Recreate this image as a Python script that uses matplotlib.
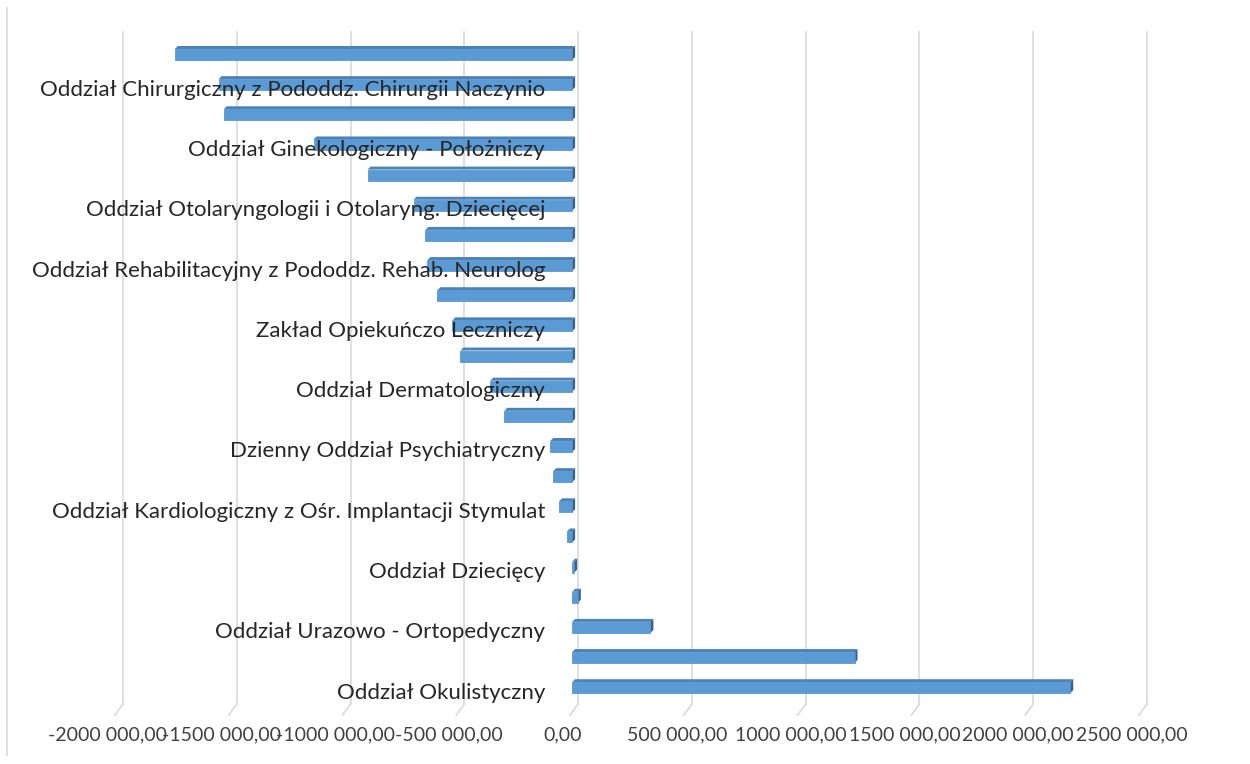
import matplotlib.pyplot as plt
from matplotlib.patches import Polygon
from matplotlib.transforms import ScaledTranslation
from matplotlib.lines import Line2D

# --- data ---
values = [-1746000, -1553000, -1531000, -1136000, -899000, -697000, -645000,
          -636000, -592000, -526000, -491000, -360000, -298000, -96000,
          -83000, -57000, -22000, 9000, 25000, 344000, 1241000, 2189000]

# only every second category is labelled in the original
label_pos = [1, 3, 5, 7, 9, 11, 13, 15, 17, 19, 21]
labels = [
    "Oddział Chirurgiczny z Pododdz. Chirurgii Naczynio",
    "Oddział Ginekologiczny - Położniczy",
    "Oddział Otolaryngologii i Otolaryng. Dziecięcej",
    "Oddział Rehabilitacyjny z Pododdz. Rehab. Neurolog",
    "Zakład Opiekuńczo Leczniczy",
    "Oddział Dermatologiczny",
    "Dzienny Oddział Psychiatryczny",
    "Oddział Kardiologiczny z Ośr. Implantacji Stymulat",
    "Oddział Dziecięcy",
    "Oddział Urazowo - Ortopedyczny",
    "Oddział Okulistyczny",
]

x_ticks = [-2000000, -1500000, -1000000, -500000, 0, 500000, 1000000,
           1500000, 2000000, 2500000]
x_tick_labels = ["-2000 000,00", "-1500 000,00", "-1000 000,00", "-500 000,00",
                 "0,00", "500 000,00", "1000 000,00", "1500 000,00",
                 "2000 000,00", "2500 000,00"]

# --- style ---
plt.rcParams['font.family'] = ['Lato', 'DejaVu Sans']
front_col = '#5b9bd5'
top_col = '#4a83b8'
side_col = '#35628f'
grid_col = '#d9d9d9'
text_col = '#404040'

W, H, DPI = 1250, 764, 100
fig = plt.figure(figsize=(W / DPI, H / DPI), dpi=DPI)
ax = fig.add_axes([123 / W, 1 - 704 / H, 1024 / W, 672 / H])

xmin, xmax = -2000000, 2500000
ymin, ymax = -0.746, 21.54
ax.set_xlim(xmin, xmax)
ax.set_ylim(ymax, ymin)

px_x = (xmax - xmin) / 1024.0      # data units per pixel along x
px_y = (ymax - ymin) / 672.0       # data units per pixel along y

# back wall gridlines + floor diagonals
for t in x_ticks:
    ax.add_line(Line2D([t, t], [ymin, ymax], color=grid_col, lw=1.2, clip_on=False, zorder=0))
    ax.add_line(Line2D([t, t - 8 * px_x], [ymax, ymax + 11 * px_y], color=grid_col,
                       lw=1.2, clip_on=False, zorder=0))

# bars with a faux 3D look (front face shifted forward from the back wall)
shift = ScaledTranslation(-6 / DPI, 0, fig.dpi_scale_trans)
front = ax.transData + shift
h = 0.365
dx = 3 * px_x
dy = 3 * px_y
for i, v in enumerate(values):
    lo, hi = min(0, v), max(0, v)
    top = i - h / 2
    bot = i + h / 2
    ax.add_patch(Polygon([[lo, top], [hi, top], [hi + dx, top - dy], [lo + dx, top - dy]],
                         closed=True, facecolor=top_col, edgecolor='none',
                         transform=front, zorder=2))
    ax.add_patch(Polygon([[hi, top], [hi + dx, top - dy], [hi + dx, bot - dy], [hi, bot]],
                         closed=True, facecolor=side_col, edgecolor='none',
                         transform=front, zorder=2))
    ax.barh(i, v, height=h, color=front_col, edgecolor='#4f8cc4', linewidth=0.5,
            transform=front, zorder=3)

# axes dressing
for s in ax.spines.values():
    s.set_visible(False)
ax.set_xticks(x_ticks)
ax.set_xticklabels(x_tick_labels, fontsize=14, color=text_col)
ax.set_yticks(label_pos)
ax.set_yticklabels(labels, fontsize=16, color='#262626')
ax.tick_params(axis='x', length=0, pad=16)
ax.tick_params(axis='y', length=0, pad=-(545 - 123) * 72 / DPI)
ax.yaxis.set_zorder(10)

for lab in ax.get_xticklabels():
    lab.set_transform(lab.get_transform() + ScaledTranslation(-15 / DPI, 0, fig.dpi_scale_trans))
for lab in ax.get_yticklabels():
    lab.set_transform(lab.get_transform() + ScaledTranslation(0, -3 / DPI, fig.dpi_scale_trans))

# left border of chart area
fig.add_artist(Line2D([7 / W, 7 / W], [1 - 8 / H, 1 - 755 / H], color=grid_col, lw=1.2))

fig.savefig('out.png', dpi=DPI)
